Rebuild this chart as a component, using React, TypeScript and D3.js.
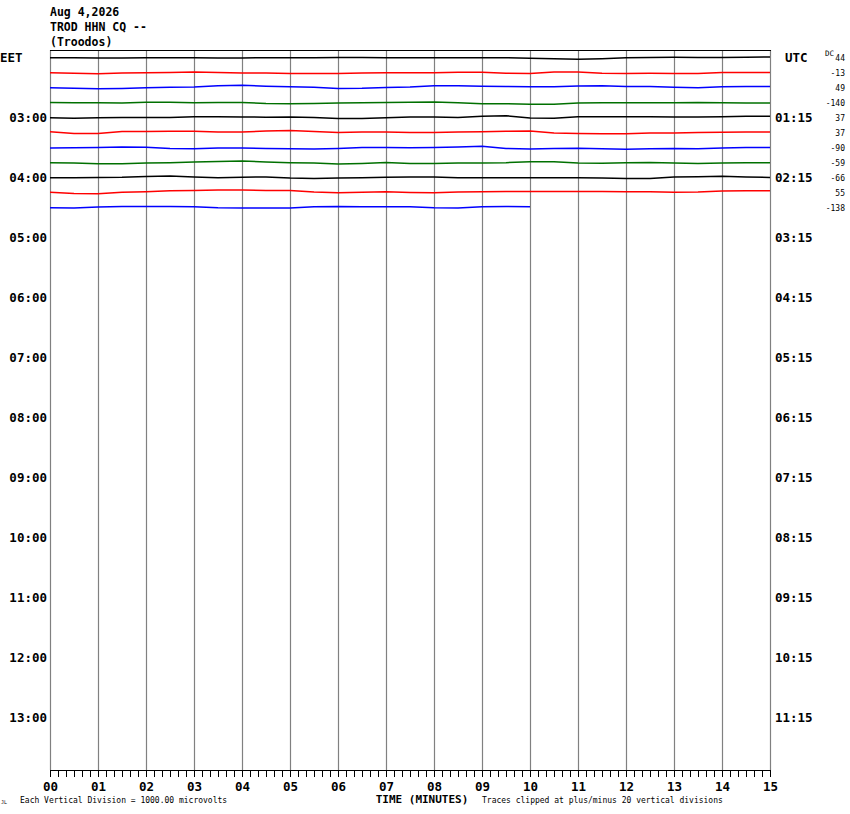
import { useEffect, useRef } from 'react'

import { line, range, scaleLinear, select } from 'd3'

// one sample every 30 s, offset in pixels from the trace baseline (negative = up)
const SAMPLE_STEP_MIN = 0.5

const TRACE_COLORS = ['#000000', '#ff0000', '#0000ff', '#007000']

const traceOffsets: number[][] = [
  [0, 0, 0.3, 0.3, 0, 0, 0, 0.3, 0.3, 0, 0, 0, -0.3, -0.3, 0, 0, 0, 0, 0, 0, 0.5, 1, 1.5, 1, 0, -0.3, -0.5, -0.3, -0.3, -0.5, -0.8],
  [0, 0.5, 1, 0.3, 0, -0.3, -0.7, -0.3, 0.3, 0.3, 0.7, 0.7, 0.7, 0.3, 0, 0, 0, -0.5, -0.5, 0.5, 0.7, -0.7, -0.7, 0.5, 0.7, 0.5, 0.7, 0.7, -0.3, -0.3, -0.3],
  [0, 0.5, 1, 0.7, 0, -0.5, -0.7, -2, -2.5, -1.5, -1, -0.5, 0.7, 0.5, -0.3, -0.7, -2, -2, -1.5, -1.2, -1, -1, -1.7, -2, -1.3, -1.2, -0.5, 0, -1, -1.3, -1.3],
  [-0.3, 0, 0, 0.3, -0.5, -0.5, 0, -0.3, -0.3, 0.7, 1, 0.7, 0.3, 0, -0.3, -0.5, -0.7, 0, 1, 1, 1.5, 1.5, 0.3, 0, 0, 0, 0, -0.3, 0, 0.3, 0.3],
  [0, 0.5, 0, -0.3, -0.3, -0.3, -1, -1, -0.7, -0.5, -0.7, -0.3, 0.7, 0.7, 0, -0.7, -0.7, -0.3, -1.5, -2, 0.3, 0.5, -1, -1, -1, -1, -0.7, -0.7, -1, -1.5, -1.5],
  [-1, 0.7, 0.7, -1.3, -1.3, -1.5, -1.5, -0.7, -0.7, -1.7, -2.3, -1.3, -0.3, -0.7, -0.7, -0.3, -0.3, -0.7, -1, -1.5, -1.7, 0.3, 0.7, 1, 1, 0.3, 0.3, -0.3, -0.5, -0.7, -0.7],
  [0.3, 0, -0.3, -0.7, -0.5, 0.7, 1, 0.3, 0.3, 0.7, 1, 1.3, 0.7, -0.3, -0.3, 0, -0.3, -0.7, -1.5, 0.7, 1.3, 0.7, 0.5, 1, 1.5, 1, 0.7, 1, 0.3, -0.3, -0.3],
  [0, 0.3, 1, 1, 0.3, 0, -0.7, -1.3, -1.7, -0.7, 0, 0.3, 1.3, 0.7, -0.3, 0.7, 0.7, 0.3, 0.3, 0, -1, -1, 0.3, 0.5, 0, -0.3, 0.3, 0.7, 0.3, 0, 0],
  [0, 0, -0.3, -0.5, -1.3, -1.7, -0.7, 0, -0.5, -0.7, 0.3, 0.7, 0.3, 0, -0.5, -0.7, -0.7, 0, 0, 0, 0, 0, 0, 0.3, 0.7, 0.7, -0.7, -1, -1.5, -0.7, -0.3],
  [-0.5, 0.7, 1, -0.5, -1, -2, -2.3, -2.7, -2.7, -2.3, -2.3, -0.7, 0, -0.5, -1, -0.3, 0, -0.7, -1, -1.3, -1.3, -1.3, -1.3, -1.3, -1, -1, -0.5, -0.7, -1.7, -2, -2],
  [0, 0.3, -0.7, -1.3, -1.3, -1.3, -1, 0, 0.3, 0.3, 0.3, -1, -1.3, -1, -1, -1, 0, 0.3, -1, -1.3, -1],
]

const dcValues = ['44', '-13', '49', '-140', '37', '37', '-90', '-59', '-66', '55', '-138']

const localHourLabels = ['EET', '03:00', '04:00', '05:00', '06:00', '07:00', '08:00', '09:00', '10:00', '11:00', '12:00', '13:00']
const utcHourLabels = ['UTC', '01:15', '02:15', '03:15', '04:15', '05:15', '06:15', '07:15', '08:15', '09:15', '10:15', '11:15']

const minuteTicks = range(0, 16)
const subTicks = range(0, 15 * 6 + 1).map(i => i / 6)

const headerLines = ['Aug 4,2026', 'TROD HHN CQ --', '(Troodos)']

const MONO = '"DejaVu Sans Mono", "Liberation Mono", monospace'

export default function App() {
  const svgRef = useRef<SVGSVGElement | null>(null)

  useEffect(() => {
    if (!svgRef.current) {
      return
    }

    const width = 850
    const height = 814
    const plot = { left: 50, right: 770, top: 50, bottom: 770 }
    const svg = select(svgRef.current)
    svg.selectAll('*').remove()
    svg.attr('viewBox', `0 0 ${width} ${height}`)

    svg.append('rect').attr('width', width).attr('height', height).attr('fill', '#ffffff')

    const x = scaleLinear().domain([0, 15]).range([plot.left, plot.right])
    // rows: minutes since 02:00 local, one trace per 15 minutes
    const y = scaleLinear().domain([0, 60]).range([57.7, 117.7])

    // vertical minute grid
    svg
      .append('g')
      .selectAll('line')
      .data(minuteTicks)
      .join('line')
      .attr('x1', d => x(d) + 0.5)
      .attr('x2', d => x(d) + 0.5)
      .attr('y1', plot.top)
      .attr('y2', plot.bottom)
      .attr('stroke', '#808080')
      .attr('stroke-width', 1.2)

    svg
      .append('line')
      .attr('x1', plot.left)
      .attr('x2', plot.right + 1)
      .attr('y1', plot.top + 0.5)
      .attr('y2', plot.top + 0.5)
      .attr('stroke', '#000')
      .attr('stroke-width', 1.2)

    // traces
    const traceLine = line<number>()
      .x((_, i) => x(i * SAMPLE_STEP_MIN))
      .y(d => d)

    traceOffsets.forEach((offsets, row) => {
      const base = y(row * 15)
      svg
        .append('path')
        .attr('d', traceLine(offsets.map(v => base + v)))
        .attr('fill', 'none')
        .attr('stroke', TRACE_COLORS[row % TRACE_COLORS.length])
        .attr('stroke-width', 1.5)
    })

    // left (local) and right (UTC) hour labels
    localHourLabels.forEach((label, i) => {
      const ty = y(i * 60)
      svg
        .append('text')
        .attr('x', label === 'EET' ? 0 : 47)
        .attr('y', ty + 4.5)
        .attr('text-anchor', label === 'EET' ? 'start' : 'end')
        .attr('font-family', MONO)
        .attr('font-weight', 'bold')
        .attr('font-size', 12.5)
        .attr('fill', '#000')
        .text(label)
    })

    utcHourLabels.forEach((label, i) => {
      const ty = y(i * 60)
      svg
        .append('text')
        .attr('x', label === 'UTC' ? 785 : 775)
        .attr('y', ty + 4.5)
        .attr('font-family', MONO)
        .attr('font-weight', 'bold')
        .attr('font-size', 12.5)
        .attr('fill', '#000')
        .text(label)
    })

    // DC offsets
    svg
      .append('text')
      .attr('x', 825)
      .attr('y', 56)
      .attr('font-family', MONO)
      .attr('font-size', 7.5)
      .attr('fill', '#000')
      .text('DC')

    dcValues.forEach((value, row) => {
      svg
        .append('text')
        .attr('x', 845)
        .attr('y', y(row * 15) + 3)
        .attr('text-anchor', 'end')
        .attr('font-family', MONO)
        .attr('font-size', 8)
        .attr('fill', '#000')
        .text(value)
    })

    // header
    headerLines.forEach((text, i) => {
      svg
        .append('text')
        .attr('x', 50)
        .attr('y', 16 + i * 15)
        .attr('font-family', MONO)
        .attr('font-weight', 'bold')
        .attr('font-size', 11.5)
        .attr('fill', '#000')
        .text(text)
    })

    // time axis
    const axis = svg.append('g')
    axis
      .append('line')
      .attr('x1', plot.left)
      .attr('x2', plot.right + 1)
      .attr('y1', plot.bottom + 0.5)
      .attr('y2', plot.bottom + 0.5)
      .attr('stroke', '#000')
      .attr('stroke-width', 1.2)

    axis
      .selectAll('line.sub')
      .data(subTicks)
      .join('line')
      .attr('class', 'sub')
      .attr('x1', d => x(d) + 0.5)
      .attr('x2', d => x(d) + 0.5)
      .attr('y1', plot.bottom)
      .attr('y2', plot.bottom + 7)
      .attr('stroke', '#000')
      .attr('stroke-width', 1)

    axis
      .selectAll('text')
      .data(minuteTicks)
      .join('text')
      .attr('x', d => x(d) + 0.5)
      .attr('y', 791)
      .attr('text-anchor', 'middle')
      .attr('font-family', MONO)
      .attr('font-weight', 'bold')
      .attr('font-size', 12.5)
      .attr('fill', '#000')
      .text(d => String(d).padStart(2, '0'))

    svg
      .append('text')
      .attr('x', 422)
      .attr('y', 803)
      .attr('text-anchor', 'middle')
      .attr('font-family', MONO)
      .attr('font-weight', 'bold')
      .attr('font-size', 11)
      .attr('fill', '#000')
      .text('TIME (MINUTES)')

    svg
      .append('text')
      .attr('x', 20)
      .attr('y', 803)
      .attr('font-family', MONO)
      .attr('font-size', 8)
      .attr('fill', '#000')
      .text('Each Vertical Division = 1000.00 microvolts')

    svg
      .append('text')
      .attr('x', 482)
      .attr('y', 803)
      .attr('font-family', MONO)
      .attr('font-size', 8)
      .attr('fill', '#000')
      .text('Traces clipped at plus/minus 20 vertical divisions')

    svg
      .append('text')
      .attr('x', 1)
      .attr('y', 804)
      .attr('font-family', MONO)
      .attr('font-size', 5)
      .attr('fill', '#000')
      .text('JL')
  }, [])

  return (
    <svg
      ref={svgRef}
      width={850}
      height={814}
      style={{ position: 'absolute', left: 0, top: 0, display: 'block' }}
    />
  )
}
